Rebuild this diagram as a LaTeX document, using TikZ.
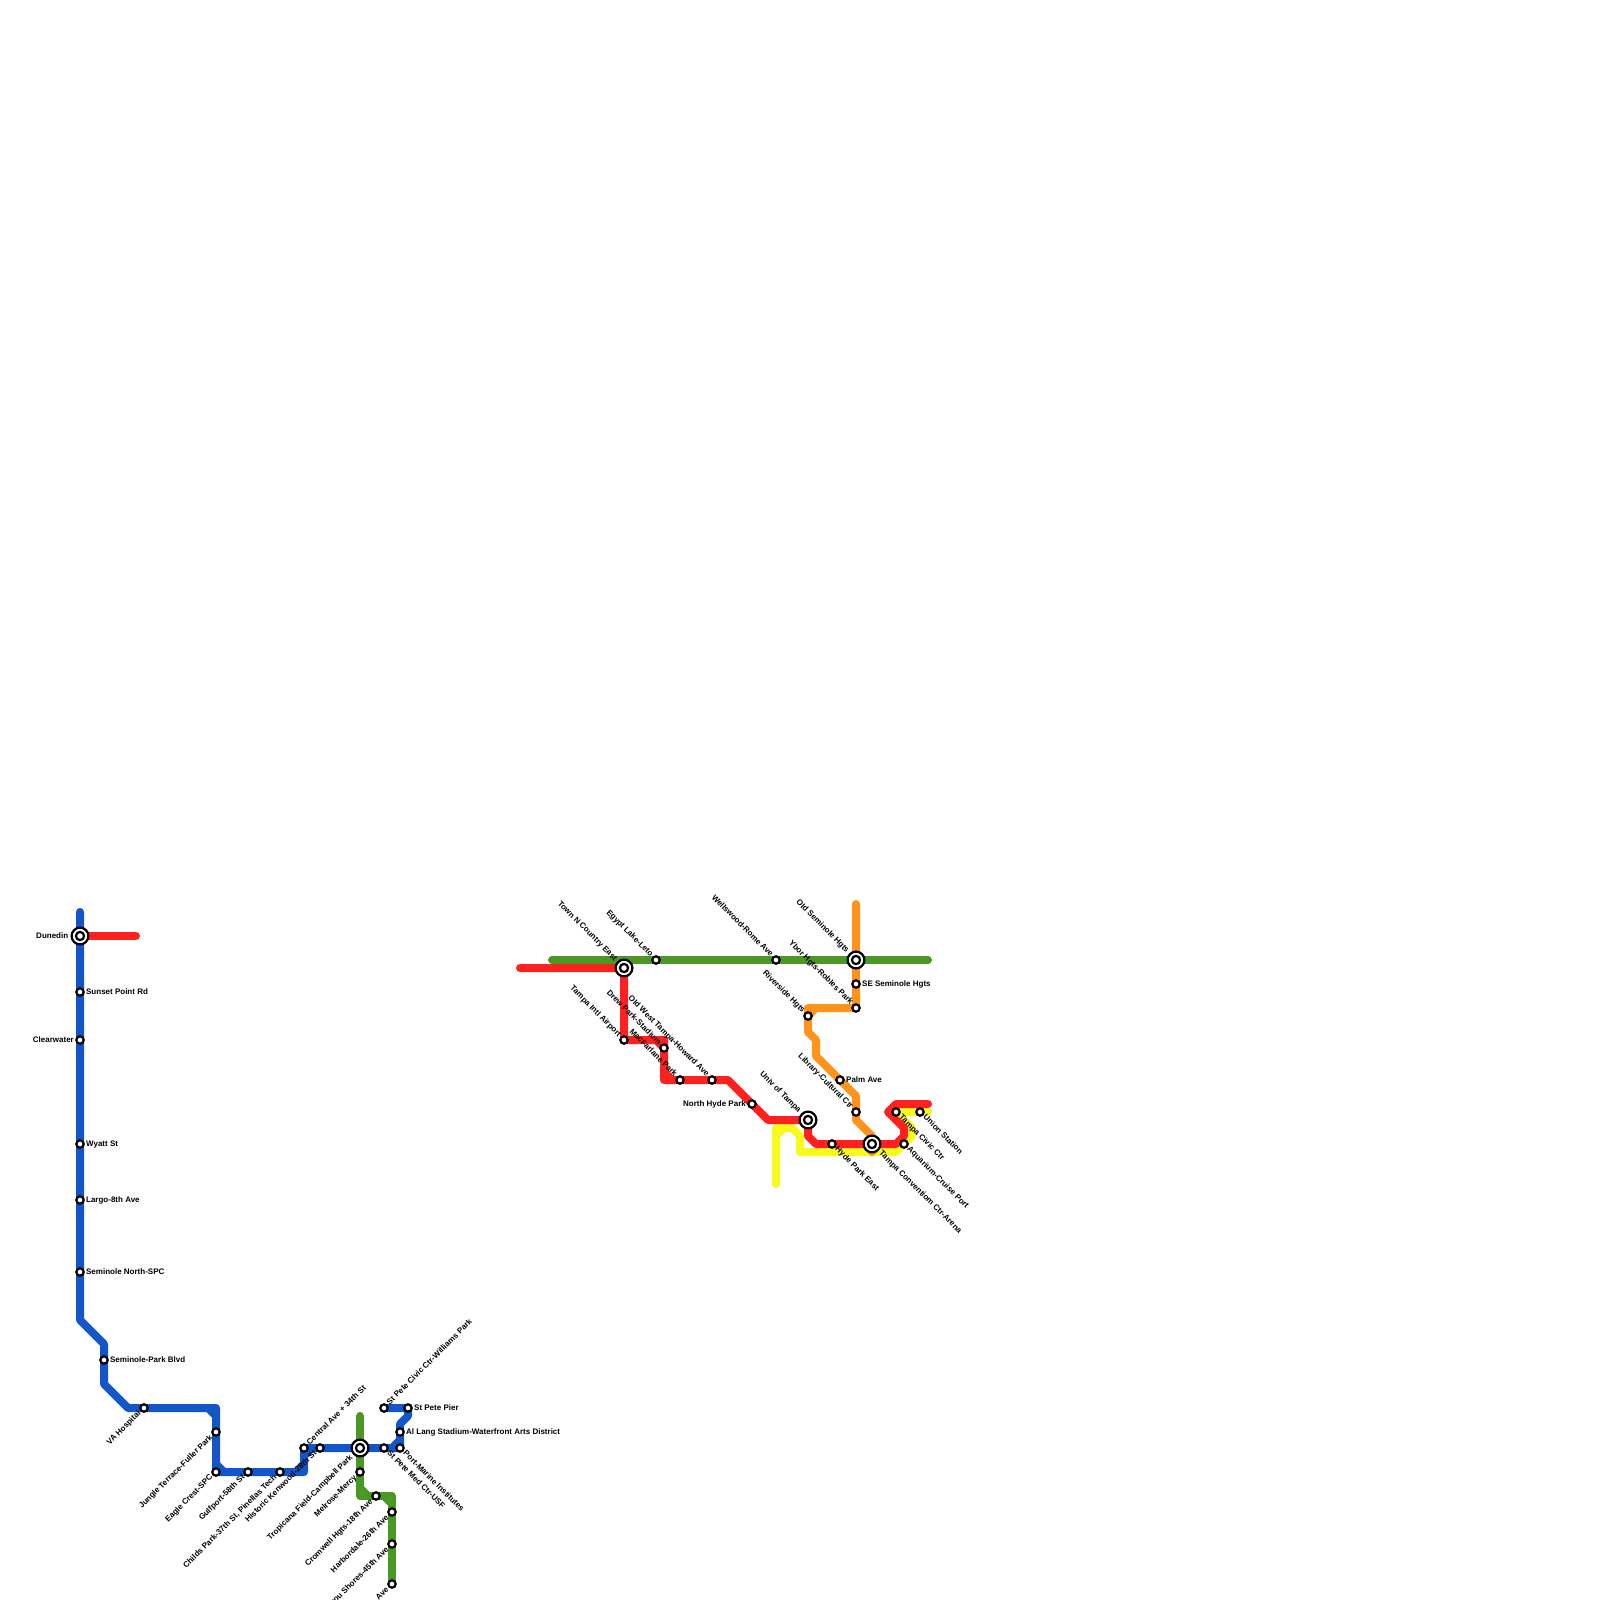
\documentclass[tikz,border=0pt]{standalone}
\usepackage{fontspec}
\setmainfont{Liberation Sans}
\definecolor{lblue}{RGB}{18,86,200}
\definecolor{lred}{RGB}{255,32,32}
\definecolor{lgreen}{RGB}{76,152,36}
\definecolor{lorange}{RGB}{255,148,28}
\definecolor{lyellow}{RGB}{248,250,30}
\pgfdeclarelayer{lines}
\pgfsetlayers{lines,main}
\tikzset{
  route/.style={line width=8pt,line cap=round,line join=round},
  stnmark/.style={circle,draw=black,fill=white,line width=2.2pt,inner sep=0pt,outer sep=0pt,minimum size=7.4pt},
  hubmark/.style={circle,draw=black,fill=white,line width=2.2pt,inner sep=0pt,outer sep=0pt,minimum size=16.8pt},
  hubcore/.style={circle,draw=black,fill=white,line width=2.2pt,inner sep=0pt,outer sep=0pt,minimum size=8.2pt},
  lbl/.style={inner sep=0pt,outer sep=0pt,text=black,font=\fontsize{8}{9}\selectfont\bfseries,text height=5.8pt,text depth=1.6pt},
  lblE/.style={xshift=#1*1.4,lbl,anchor=west},
  lblW/.style={xshift=-#1*1.4,lbl,anchor=east},
  lblNE/.style={xshift=#1,yshift=#1,lbl,rotate=45,anchor=west},
  lblSE/.style={xshift=#1,yshift=-#1,lbl,rotate=-45,anchor=west},
  lblNW/.style={xshift=-#1,yshift=#1,lbl,rotate=-45,anchor=east},
  lblSW/.style={xshift=-#1,yshift=-#1,lbl,rotate=45,anchor=east},
}
% id, x, y, label style, text
\newcommand{\stnode}[5]{\node[stnmark] (#1) at (#2,#3) {}; \node[#4=4.4pt] (#1-l) at (#1) {#5};}
\newcommand{\hubnode}[5]{\node[hubmark] (#1) at (#2,#3) {}; \node[hubcore] (#1-c) at (#1) {}; \node[#4=8.4pt] (#1-l) at (#1) {#5};}
\begin{document}
\begin{tikzpicture}[x=1pt,y=-1pt]
\useasboundingbox (0,0) rectangle (1600,1600);
% ---- stations
\hubnode{dun}{80}{936}{lblW}{Dunedin}
\stnode{sun}{80}{992}{lblE}{Sunset Point Rd}
\stnode{clw}{80}{1040}{lblW}{Clearwater}
\stnode{wya}{80}{1144}{lblE}{Wyatt St}
\stnode{lar}{80}{1200}{lblE}{Largo-8th Ave}
\stnode{sen}{80}{1272}{lblE}{Seminole North-SPC}
\stnode{spb}{104}{1360}{lblE}{Seminole-Park Blvd}
\stnode{vah}{144}{1408}{lblSW}{VA Hospital}
\stnode{jun}{216}{1432}{lblSW}{Jungle Terrace-Fuller Park}
\stnode{eag}{216}{1472}{lblSW}{Eagle Crest-SPC}
\stnode{gul}{248}{1472}{lblSW}{Gulfport-58th St}
\stnode{chi}{280}{1472}{lblSW}{Childs Park-37th St, Pinellas Tech}
\stnode{cen}{304}{1448}{lblNE}{Central Ave + 34th St}
\stnode{his}{320}{1448}{lblSW}{Historic Kenwood-28th St}
\hubnode{tro}{360}{1448}{lblSW}{Tropicana Field-Campbell Park}
\stnode{med}{384}{1448}{lblSE}{St Pete Med Ctr-USF}
\stnode{por}{400}{1448}{lblSE}{Port-Marine Institutes}
\stnode{all}{400}{1432}{lblE}{Al Lang Stadium-Waterfront Arts District}
\stnode{pie}{408}{1408}{lblE}{St Pete Pier}
\stnode{civ}{384}{1408}{lblNE}{St Pete Civic Ctr-Williams Park}
\stnode{mel}{360}{1472}{lblSW}{Melrose-Mercy}
\stnode{cro}{376}{1496}{lblSW}{Cromwell Hgts-18th Ave}
\stnode{har}{392}{1512}{lblSW}{Harbordale-26th Ave}
\stnode{bay}{392}{1544}{lblSW}{Bayou Shores-45th Ave}
\stnode{las}{392}{1584}{lblSW}{Ave}
\hubnode{tow}{624}{968}{lblNW}{Town N Country East}
\stnode{egy}{656}{960}{lblNW}{Egypt Lake-Leto}
\stnode{air}{624}{1040}{lblNW}{Tampa Intl Airport}
\stnode{dre}{664}{1048}{lblNW}{Drew Park-Stadium}
\stnode{mac}{680}{1080}{lblNW}{MacFarlane Park}
\stnode{old}{712}{1080}{lblNW}{Old West Tampa-Howard Ave}
\stnode{nhp}{752}{1104}{lblW}{North Hyde Park}
\stnode{wel}{776}{960}{lblNW}{Wellswood-Rome Ave}
\hubnode{ose}{856}{960}{lblNW}{Old Seminole Hgts}
\stnode{ses}{856}{984}{lblE}{SE Seminole Hgts}
\stnode{ybo}{856}{1008}{lblNW}{Ybor Hgts-Robles Park}
\stnode{riv}{808}{1016}{lblNW}{Riverside Hgts}
\stnode{pal}{840}{1080}{lblE}{Palm Ave}
\stnode{lib}{856}{1112}{lblNW}{Library-Cultural Ctr}
\hubnode{uni}{808}{1120}{lblNW}{Univ of Tampa}
\stnode{hyd}{832}{1144}{lblSE}{Hyde Park East}
\hubnode{con}{872}{1144}{lblSE}{Tampa Conventiom Ctr-Arena}
\stnode{aqu}{904}{1144}{lblSE}{Aquarium-Cruise Port}
\stnode{tci}{896}{1112}{lblSE}{Tampa Civic Ctr}
\stnode{ust}{920}{1112}{lblSE}{Union Station}
% ---- bends and ends
\foreach \n/\p in {
 b0/{80,912},b1/{80,1320},b2/{104,1344},b3/{104,1384},b4/{128,1408},b5/{216,1408},b5a/{208,1408},b5b/{216,1416},
 b6/{216,1464},b7/{224,1472},b8/{304,1472},b8a/{296,1472},b8b/{304,1464},b8c/{304,1456},b8d/{312,1448},
 b9/{392,1448},b10/{400,1440},b11/{400,1424},b12/{408,1416},
 g0/{360,1416},g1/{360,1496},g1a/{360,1488},g1b/{368,1496},g2/{392,1496},g2a/{384,1496},g2b/{392,1504},
 g3/{552,960},g4/{928,960},
 r0/{136,936},r1/{520,968},r2/{664,1040},r2a/{656,1040},r3/{664,1080},r3a/{664,1072},r3b/{672,1080},
 r4/{728,1080},r5/{768,1120},r6/{808,1136},r7/{816,1144},r8/{896,1144},r9/{904,1136},r10/{904,1128},r11/{888,1112},r12/{896,1104},r13/{928,1104},
 o0/{856,904},o1/{808,1008},o1a/{816,1008},o2/{808,1032},o3/{816,1040},o4/{816,1056},o5/{856,1096},o6/{856,1120},o7/{872,1136},o8/{872,1152},
 y0/{776,1184},y1/{776,1128},y1a/{776,1136},y1b/{784,1128},y2/{792,1128},y3/{800,1136},y4/{800,1152},y5/{896,1152},y6/{912,1136},y7/{912,1128},y8/{896,1112},y9/{928,1112}}
 {\coordinate (\n) at (\p);}
% ---- routes
\begin{pgfonlayer}{lines}
\draw[route,lyellow] (y0) -- (y1) -- (y2) -- (y3) -- (y4) -- (y5) -- (y6) -- (y7) -- (y8) -- (y9);
\draw[route,lyellow] (y1a) -- (y1b);
\draw[route,lorange] (o0) -- (ybo.center) -- (o1) -- (o2) -- (o3) -- (o4) -- (o5) -- (o6) -- (o7) -- (o8);
\draw[route,lorange] (o1a) -- (riv.center);
\draw[route,lgreen] (g3) -- (g4);
\draw[route,lgreen] (g0) -- (g1) -- (g2) -- (las.center);
\draw[route,lgreen] (g1a) -- (g1b) (g2a) -- (g2b);
\draw[route,lred] (dun.center) -- (r0);
\draw[route,lred] (r1) -- (tow.center) -- (air.center) -- (r2) -- (r3) -- (r4) -- (r5) -- (uni.center) -- (r6) -- (r7) -- (r8) -- (r9) -- (r10) -- (r11) -- (r12) -- (r13);
\draw[route,lred] (r2a) -- (dre.center) (r3a) -- (r3b);
\draw[route,lblue] (b0) -- (b1) -- (b2) -- (b3) -- (b4) -- (b5) -- (eag.center) -- (b8) -- (cen.center) -- (por.center) -- (b11) -- (b12) -- (pie.center) -- (civ.center);
\draw[route,lblue] (b5a) -- (b5b) (b6) -- (b7) (b8a) -- (b8b) (b8c) -- (b8d) (b9) -- (b10);
\end{pgfonlayer}
\end{tikzpicture}
\end{document}
